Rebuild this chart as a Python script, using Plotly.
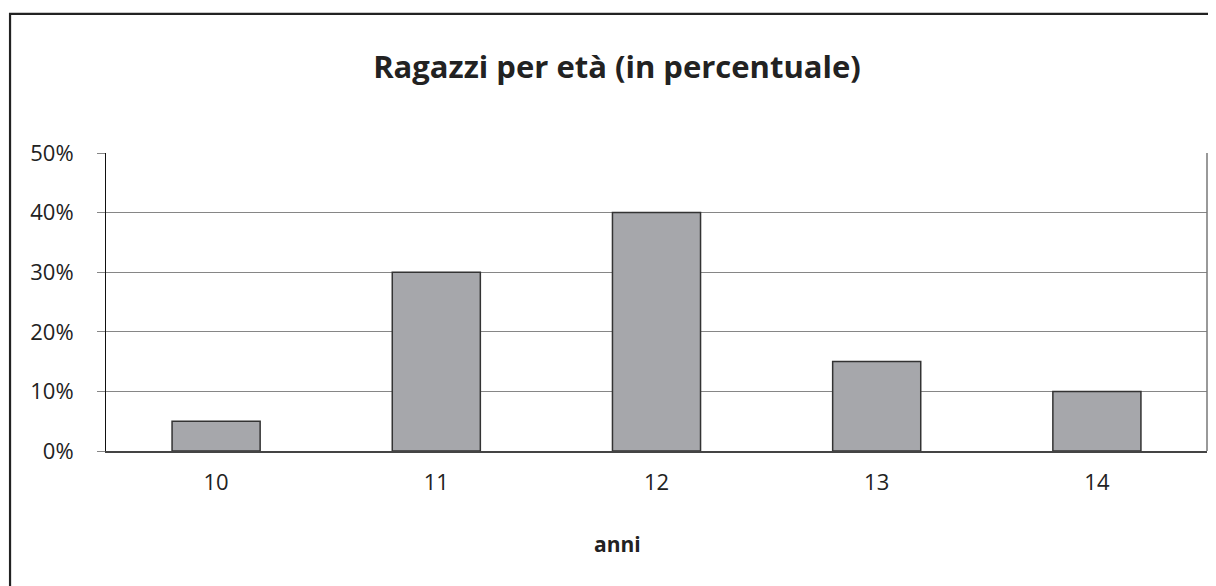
import plotly.graph_objects as go

# Data
eta = [10, 11, 12, 13, 14]
percentuali = [0.05, 0.30, 0.40, 0.15, 0.10]
y_ticks = [0, 0.1, 0.2, 0.3, 0.4, 0.5]
titolo = "Ragazzi per età (in percentuale)"
titolo_x = "anni"

FONT = "Open Sans"
OFF = 8  # default page body margin

fig = go.Figure()
fig.add_trace(go.Bar(
    x=eta, y=percentuali, width=0.4,
    marker=dict(color="#A6A7AB", line=dict(color="#333333", width=1.5)),
    showlegend=False, hoverinfo="x+y",
))

# target page pixel coordinates of plot area
L, R, T, B = 105.5, 1207, 152.7, 451
W, H = 1216, 586
pw, ph = R - L, B - T
FW, FH = W - OFF, H - OFF

def px_x(p):
    return (p - L) / pw

def px_y(p):
    return (B - p) / ph

fig.update_layout(
    width=FW, height=FH,
    margin=dict(l=L - OFF, r=FW - (R - OFF), t=T - OFF, b=FH - (B - OFF), pad=0),
    paper_bgcolor="white", plot_bgcolor="white",
    font=dict(family=FONT, color="#222222", size=22),
    title=dict(text="<b>" + titolo + "</b>", x=(617 - OFF) / FW, xref="container", xanchor="center",
               y=1 - (67 - OFF) / FH, yref="container", yanchor="middle",
               font=dict(family=FONT, size=31, color="#222222")),
    xaxis=dict(
        range=[9.5, 14.5], tickvals=eta, ticktext=[str(e) for e in eta],
        showgrid=False, zeroline=False, showline=True, linecolor="#444444", linewidth=1.5,
        ticks="", ticklabelstandoff=11, tickfont=dict(size=22, family=FONT, color="#222222"),
        fixedrange=True,
    ),
    yaxis=dict(
        range=[0, 0.5], tickvals=y_ticks, tickformat=".0%",
        showgrid=True, gridcolor="#868686", gridwidth=1,
        zeroline=False, showline=True, linecolor="#111111", linewidth=1,
        ticks="outside", ticklen=8, tickcolor="#868686", tickwidth=1,
        ticklabelstandoff=19, tickfont=dict(size=22, family=FONT, color="#222222"),
        fixedrange=True,
    ),
    shapes=[
        dict(type="line", xref="paper", yref="paper", x0=1, x1=1, y0=0, y1=1,
             line=dict(color="#777777", width=1.5)),
        dict(type="path", xref="paper", yref="paper",
             path="M {x0},{y0} L {x0},{y1} L {x1},{y1}".format(
                 x0=px_x(9.5), y0=px_y(620), y1=px_y(13.5), x1=px_x(1240)),
             line=dict(color="#222222", width=2.2)),
    ],
    annotations=[
        dict(text="<b>" + titolo_x + "</b>", xref="paper", yref="paper",
             x=px_x(617), y=px_y(544), xanchor="center", yanchor="middle",
             showarrow=False, font=dict(family=FONT, size=21, color="#222222")),
    ],
)

fig.write_html("out.html")
